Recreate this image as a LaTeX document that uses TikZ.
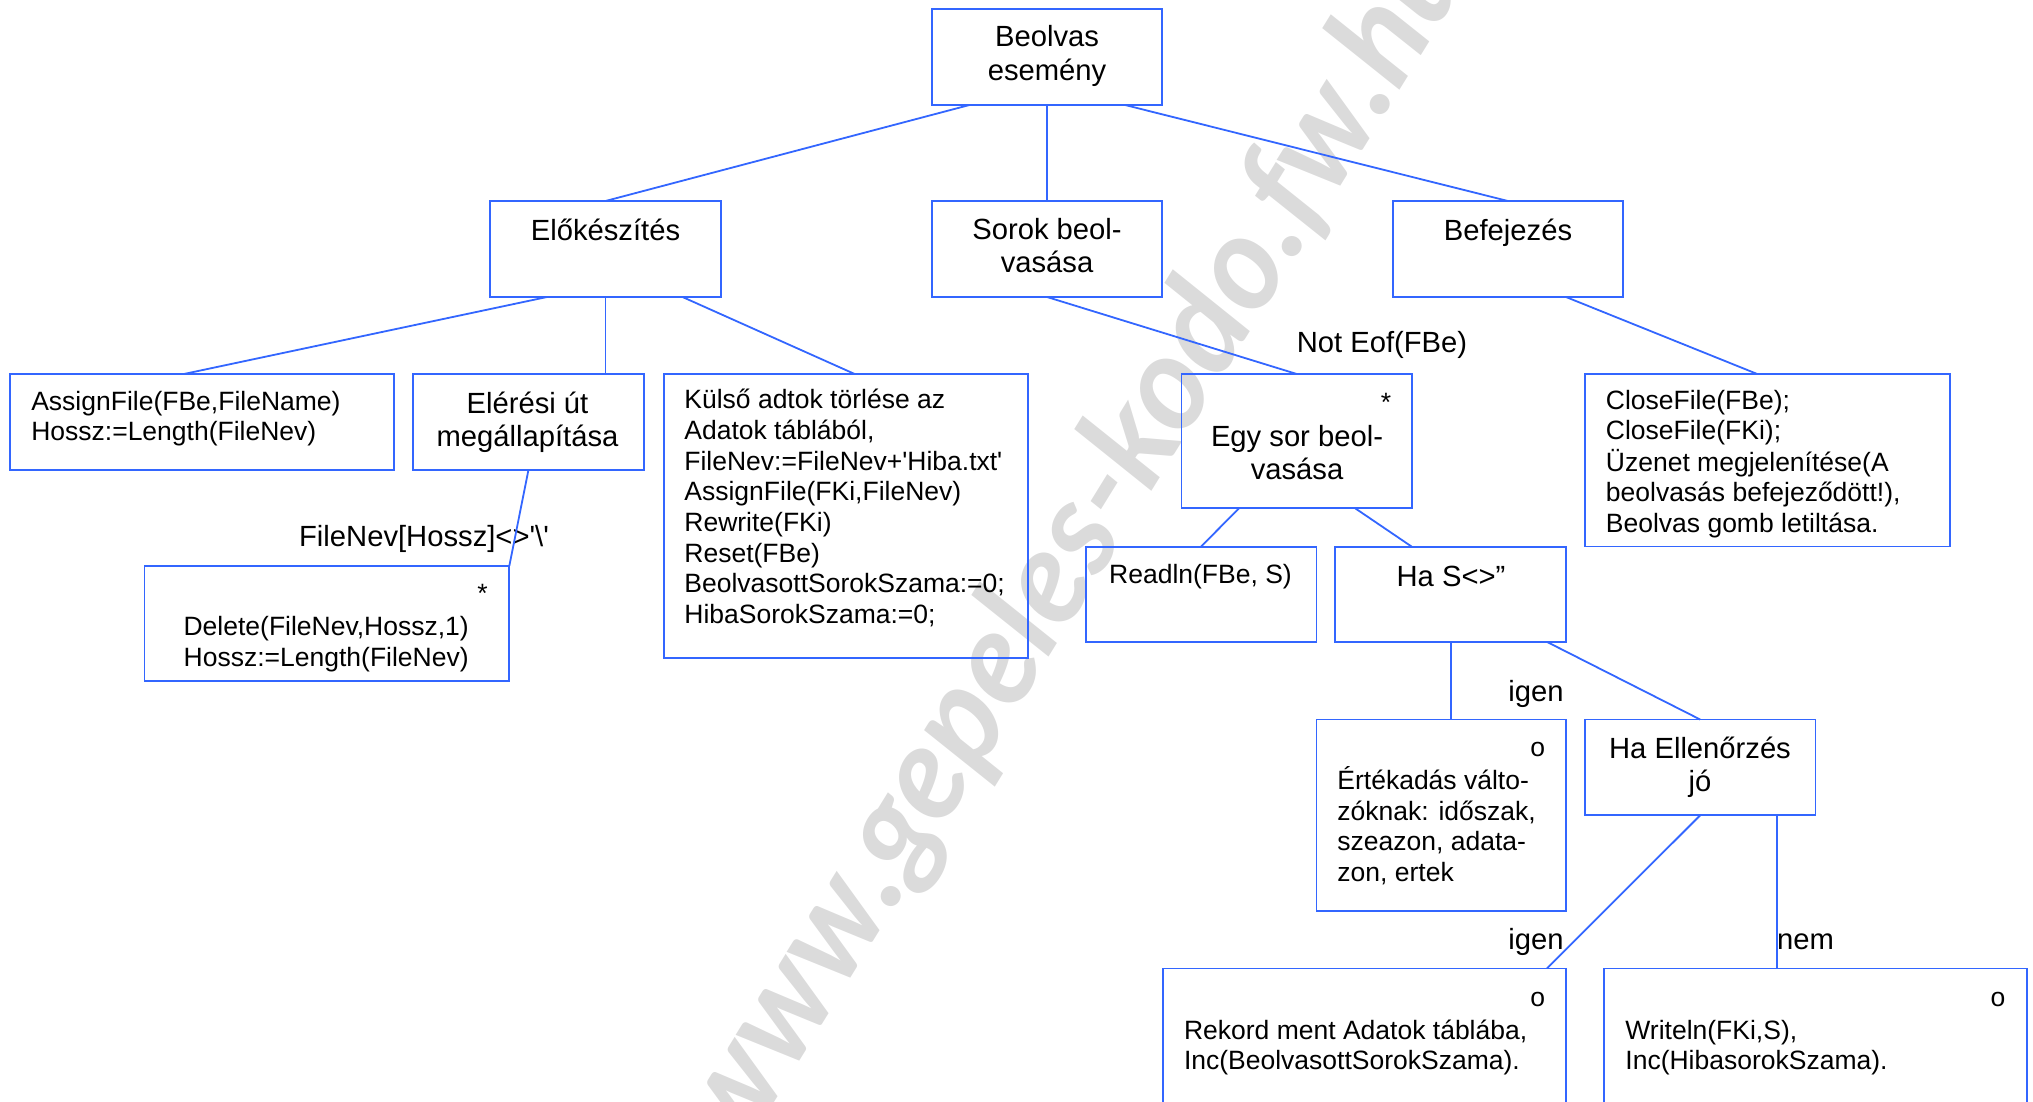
\documentclass[tikz,border=0pt]{standalone}
\usepackage{fontspec}
\newfontfamily\af{Liberation Sans}
\newfontfamily\wmf{Lato}
\usetikzlibrary{calc}
\definecolor{bl}{RGB}{51,102,255}
\newcommand\ml[1]{\begin{tabular}[t]{@{}l@{}}#1\end{tabular}}
\newcommand\mc[1]{\begin{tabular}[t]{@{}c@{}}#1\end{tabular}}
\newcommand\mkbox[5]{\node[box,minimum width={(#4-#2)*0.5pt},minimum height={(#5-#3)*0.5pt}] (#1) at ({(#2+#4)/2},{(#3+#5)/2}) {};}
\begin{document}
\begin{tikzpicture}[x=0.5pt,y=-0.5pt,
  box/.style={draw=bl,line width=0.9pt,inner sep=0pt,outer sep=0pt},
  con/.style={draw=bl,line width=0.9pt},
  big/.style={inner sep=0pt,font=\af\fontsize{14.6}{16.85}\selectfont},
  sml/.style={inner sep=0pt,font=\af\fontsize{13.25}{15.35}\selectfont}]
\useasboundingbox (0,0) rectangle (2033,1102);
\clip (0,0) rectangle (2033,1102);
% watermark
\node[rotate=58.3,text=black!14,inner sep=0pt,font=\wmf\bfseries\itshape\fontsize{66}{70}\selectfont] (wm) at (1075,545) {www.gepeles-kodo.fw.hu};
% boxes
\mkbox{beol}{932}{9}{1162}{105}
\mkbox{elo}{490}{201}{721}{297}
\mkbox{sorok}{932}{201}{1162}{297}
\mkbox{bef}{1392.6}{201}{1623.3}{297}
\mkbox{ass}{9.8}{374}{394}{469.6}
\mkbox{eler}{413}{374}{644}{469.6}
\mkbox{kul}{663.6}{374}{1027.7}{657.7}
\mkbox{del}{144.5}{566}{509.3}{680.8}
\mkbox{egy}{1181.5}{374}{1412}{508}
\mkbox{close}{1584.8}{374}{1949.7}{546.4}
\mkbox{readln}{1085.7}{546.6}{1316.4}{642}
\mkbox{has}{1335.3}{546.6}{1566}{642}
\mkbox{ert}{1316.5}{719.5}{1566}{911.3}
\mkbox{hae}{1584.8}{719.5}{1815.5}{815.3}
\mkbox{rek}{1162.9}{968.4}{1566}{1140}
\mkbox{wri}{1604.2}{968.4}{2026.8}{1140}
% texts
\node[big,anchor=base] (beolt) at (1047,47) {\mc{Beolvas\\esemény}};
\node[big,anchor=base] (elot) at (605.5,240.4) {Előkészítés};
\node[big,anchor=base] (sorokt) at (1047,239) {\mc{Sorok beol-\\vasása}};
\node[big,anchor=base] (beft) at (1508,240) {Befejezés};
\node[sml,anchor=base west] (asst) at (30.9,410) {\ml{AssignFile(FBe,FileName)\\Hossz:=Length(FileNev)}};
\node[big,anchor=base] (elert) at (527.5,413.2) {\mc{Elérési út\\megállapítása}};
\node[sml,anchor=base west] (kult) at (684,408.7) {\ml{Külső adtok törlése az\\Adatok táblából,\\FileNev:=FileNev+'Hiba.txt'\\AssignFile(FKi,FileNev)\\Rewrite(FKi)\\Reset(FBe)\\BeolvasottSorokSzama:=0;\\HibaSorokSzama:=0;}};
\node[sml,anchor=base] (delst) at (482.6,602) {*};
\node[sml,anchor=base] (delt) at (326.2,635.4) {\mc{Delete(FileNev,Hossz,1)\\Hossz:=Length(FileNev)}};
\node[sml,anchor=base] (egyst) at (1386,411) {*};
\node[big,anchor=base] (egyt) at (1297,446.2) {\mc{Egy sor beol-\\vasása}};
\node[sml,anchor=base west] (closet) at (1605.5,409) {\ml{CloseFile(FBe);\\CloseFile(FKi);\\Üzenet megjelenítése(A\\beolvasás befejeződött!),\\Beolvas gomb letiltása.}};
\node[sml,anchor=base] (readlnt) at (1200.5,583) {Readln(FBe, S)};
\node[big,anchor=base] (hast) at (1451,586.5) {Ha S<>”};
\node[sml,anchor=base] (ertot) at (1537.8,756) {o};
\node[sml,anchor=base west] (ertt) at (1337,789.5) {\ml{Értékadás válto-\\zóknak: időszak,\\szeazon, adata-\\zon, ertek}};
\node[big,anchor=base] (haet) at (1700,758) {\mc{Ha Ellenőrzés\\jó}};
\node[sml,anchor=base] (rekot) at (1537.8,1006) {o};
\node[sml,anchor=base west] (rekt) at (1183.6,1039) {\ml{Rekord ment Adatok táblába,\\Inc(BeolvasottSorokSzama).}};
\node[sml,anchor=base] (wriot) at (1998,1006) {o};
\node[sml,anchor=base west] (writ) at (1625,1039) {\ml{Writeln(FKi,S),\\Inc(HibasorokSzama).}};
% labels
\node[big,anchor=base] (lfn) at (424,546) {FileNev[Hossz]<>'\textbackslash'};
\node[big,anchor=base] (lne) at (1382,352.5) {Not Eof(FBe)};
\node[big,anchor=base] (lig1) at (1536,701) {igen};
\node[big,anchor=base] (lig2) at (1536,949) {igen};
\node[big,anchor=base] (lnem) at (1805.5,949) {nem};
% connectors
\coordinate (haen) at ($(hae.south)+(76.6,0)$);
\draw[con] ($(beol.south)+(-77.5,0)$) -- (elo.north);
\draw[con] (beol.south) -- (sorok.north);
\draw[con] ($(beol.south)+(78,0)$) -- (bef.north);
\draw[con] ($(elo.south)+(-58.5,0)$) -- ($(ass.north)+(-18,0)$);
\draw[con] (elo.south) -- (elo.south |- eler.north);
\draw[con] ($(elo.south)+(77,0)$) -- ($(kul.north)+(9,0)$);
\draw[con] (eler.south) -- (del.north east);
\draw[con] (sorok.south) -- (egy.north);
\draw[con] ($(bef.south)+(58,0)$) -- ($(close.north)+(-10,0)$);
\draw[con] ($(egy.south)+(-57.5,0)$) -- (readln.north);
\draw[con] ($(egy.south)+(58,0)$) -- ($(has.north)+(-39,0)$);
\draw[con] (has.south) -- (has.south |- ert.north);
\draw[con] ($(has.south)+(96.5,0)$) -- (hae.north);
\draw[con] (hae.south) -- ($(rek.north east)+(-19,0)$);
\draw[con] (haen) -- (haen |- wri.north);
\end{tikzpicture}
\end{document}
